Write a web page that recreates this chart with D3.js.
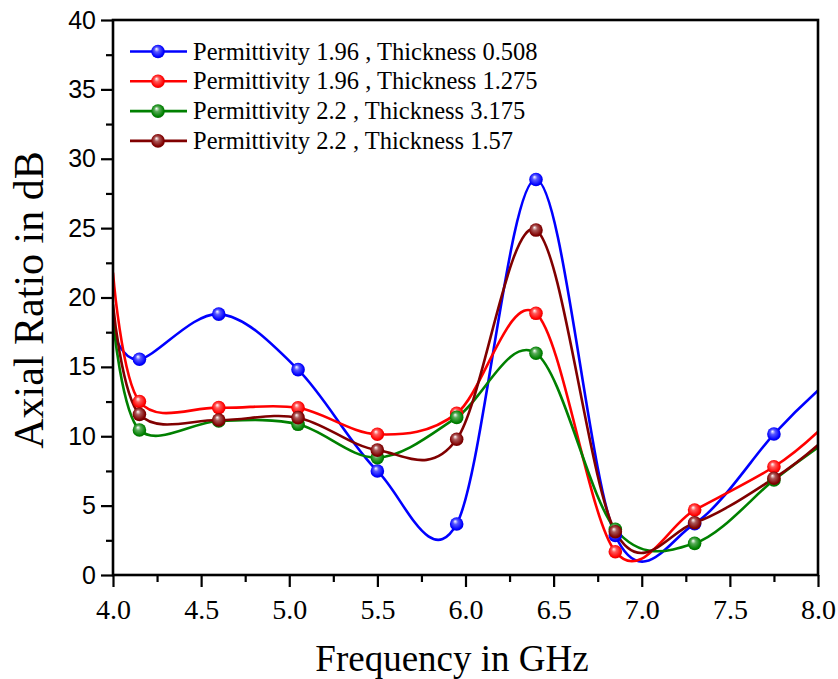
<!DOCTYPE html>
<html>
<head>
<meta charset="utf-8">
<script src="https://cdn.jsdelivr.net/npm/d3@7"></script>
<style>
  html, body { margin: 0; padding: 0; background: #fff; }
  svg { display: block; }
</style>
</head>
<body>
<svg id="chart" width="838" height="679"></svg>
<script>
// ---- data ----
const freq = [4.0, 4.15, 4.6, 5.05, 5.5, 5.95, 6.4, 6.85, 7.3, 7.75, 8.0];
const ar_e196_t0508 = [17.6, 15.55, 18.8, 14.8, 7.5, 3.68, 28.5, 2.85, 3.7, 10.16, 13.3];
const ar_e196_t1275 = [21.8, 12.5, 12.06, 12.05, 10.14, 11.65, 18.86, 1.68, 4.68, 7.8, 10.33];
const ar_e22_t3175  = [18.4, 10.45, 11.1, 10.86, 8.46, 11.36, 15.98, 3.3, 2.28, 6.85, 9.2];
const ar_e22_t157   = [19.5, 11.58, 11.17, 11.34, 9.0, 9.78, 24.86, 3.12, 3.77, 6.97, 9.37];
const seriesNames = [
  "Permittivity 1.96 , Thickness 0.508",
  "Permittivity 1.96 , Thickness 1.275",
  "Permittivity 2.2 , Thickness 3.175",
  "Permittivity 2.2 , Thickness 1.57"
];
const seriesColors = ["#0000ff", "#ff0000", "#008000", "#800000"];
const xTickValues = [4.0, 4.5, 5.0, 5.5, 6.0, 6.5, 7.0, 7.5, 8.0];
const yTickValues = [0, 5, 10, 15, 20, 25, 30, 35, 40];
const xLabel = "Frequency in GHz";
const yLabel = "Axial Ratio in dB";

const seriesValues = [ar_e196_t0508, ar_e196_t1275, ar_e22_t3175, ar_e22_t157];

// ---- layout ----
const svg = d3.select("#chart");
const margin = {left: 113, top: 20, right: 20, bottom: 104};
const W = 838, H = 679;
const pw = W - margin.left - margin.right;
const ph = H - margin.top - margin.bottom;

const x = d3.scaleLinear().domain([4.0, 8.0]).range([margin.left, margin.left + pw]);
const y = d3.scaleLinear().domain([0, 40]).range([margin.top + ph, margin.top]);

// gradients for sphere markers
const defs = svg.append("defs");
seriesColors.forEach((c, i) => {
  const g = defs.append("radialGradient")
    .attr("id", "sph" + i)
    .attr("cx", "0.5").attr("cy", "0.5").attr("r", "0.6")
    .attr("fx", "0.38").attr("fy", "0.3");
  g.append("stop").attr("offset", "0%").attr("stop-color", "#ffffff");
  g.append("stop").attr("offset", "30%").attr("stop-color", d3.interpolateRgb(c, "#ffffff")(0.35));
  g.append("stop").attr("offset", "75%").attr("stop-color", c);
  g.append("stop").attr("offset", "100%").attr("stop-color", d3.color(c).darker(0.8));
});

const clip = defs.append("clipPath").attr("id", "plotclip");
clip.append("rect").attr("x", margin.left).attr("y", margin.top).attr("width", pw).attr("height", ph);

// curves
const line = d3.line()
  .x((d, i) => x(freq[i]))
  .y(d => y(d))
  .curve(d3.curveCardinal.tension(0));

const plot = svg.append("g").attr("clip-path", "url(#plotclip)");
seriesValues.forEach((vals, si) => {
  plot.append("path")
    .attr("d", line(vals))
    .attr("fill", "none")
    .attr("stroke", seriesColors[si])
    .attr("stroke-width", 2.6);
});
seriesValues.forEach((vals, si) => {
  plot.selectAll(".m" + si)
    .data(vals.map((v, i) => ({f: freq[i], v})).filter(d => d.f > 4.0 && d.f < 8.0))
    .enter().append("circle")
    .attr("cx", d => x(d.f))
    .attr("cy", d => y(d.v))
    .attr("r", 6.8)
    .attr("fill", "url(#sph" + si + ")");
});

// axes
const xAxis = d3.axisBottom(x).tickValues(xTickValues).tickSize(12).tickFormat(d3.format(".1f"));
const xMinor = d3.axisBottom(x).tickValues(d3.range(4.25, 8.0, 0.5)).tickSize(7).tickFormat("");
const yAxis = d3.axisLeft(y).tickValues(yTickValues).tickSize(12).tickFormat(d3.format("d"));
const yMinor = d3.axisLeft(y).tickValues(d3.range(2.5, 40, 5)).tickSize(7).tickFormat("");

function styleAxis(g) {
  g.select(".domain").remove();
  g.selectAll(".tick line").attr("stroke", "#000").attr("stroke-width", 2.2);
}

const gx = svg.append("g").attr("transform", `translate(0,${margin.top + ph})`).call(xAxis).call(styleAxis);
gx.selectAll("text")
  .attr("font-family", "'Liberation Serif', 'Times New Roman', serif")
  .attr("font-size", 28).attr("fill", "#000").attr("dy", "1.02em");
svg.append("g").attr("transform", `translate(0,${margin.top + ph})`).call(xMinor).call(styleAxis);

const gy = svg.append("g").attr("transform", `translate(${margin.left},0)`).call(yAxis).call(styleAxis);
gy.selectAll("text")
  .attr("font-family", "'Liberation Sans', Arial, sans-serif")
  .attr("font-size", 25).attr("fill", "#000").attr("x", -17);
svg.append("g").attr("transform", `translate(${margin.left},0)`).call(yMinor).call(styleAxis);

// frame
svg.append("rect")
  .attr("x", margin.left).attr("y", margin.top)
  .attr("width", pw).attr("height", ph)
  .attr("fill", "none").attr("stroke", "#000").attr("stroke-width", 2.6);

// axis titles
svg.append("text")
  .attr("x", 452).attr("y", 671)
  .attr("text-anchor", "middle")
  .attr("font-family", "'Liberation Serif', 'Times New Roman', serif")
  .attr("font-size", 37).attr("fill", "#000")
  .text(xLabel);
svg.append("text")
  .attr("transform", `translate(43,300) rotate(-90)`)
  .attr("text-anchor", "middle")
  .attr("font-family", "'Liberation Serif', 'Times New Roman', serif")
  .attr("font-size", 42).attr("fill", "#000")
  .text(yLabel);

// legend
const legendY0 = 51.5, legendDy = 29.8;
const lg = svg.append("g");
seriesNames.forEach((name, i) => {
  const ly = legendY0 + i * legendDy;
  lg.append("line").attr("x1", 130).attr("x2", 187).attr("y1", ly).attr("y2", ly)
    .attr("stroke", seriesColors[i]).attr("stroke-width", 2.6);
  lg.append("circle").attr("cx", 158).attr("cy", ly).attr("r", 6.8).attr("fill", "url(#sph" + i + ")");
  lg.append("text").attr("x", 193).attr("y", ly + 8)
    .attr("font-family", "'Liberation Serif', 'Times New Roman', serif")
    .attr("font-size", 24.5).attr("fill", "#000")
    .text(name);
});
</script>
</body>
</html>
